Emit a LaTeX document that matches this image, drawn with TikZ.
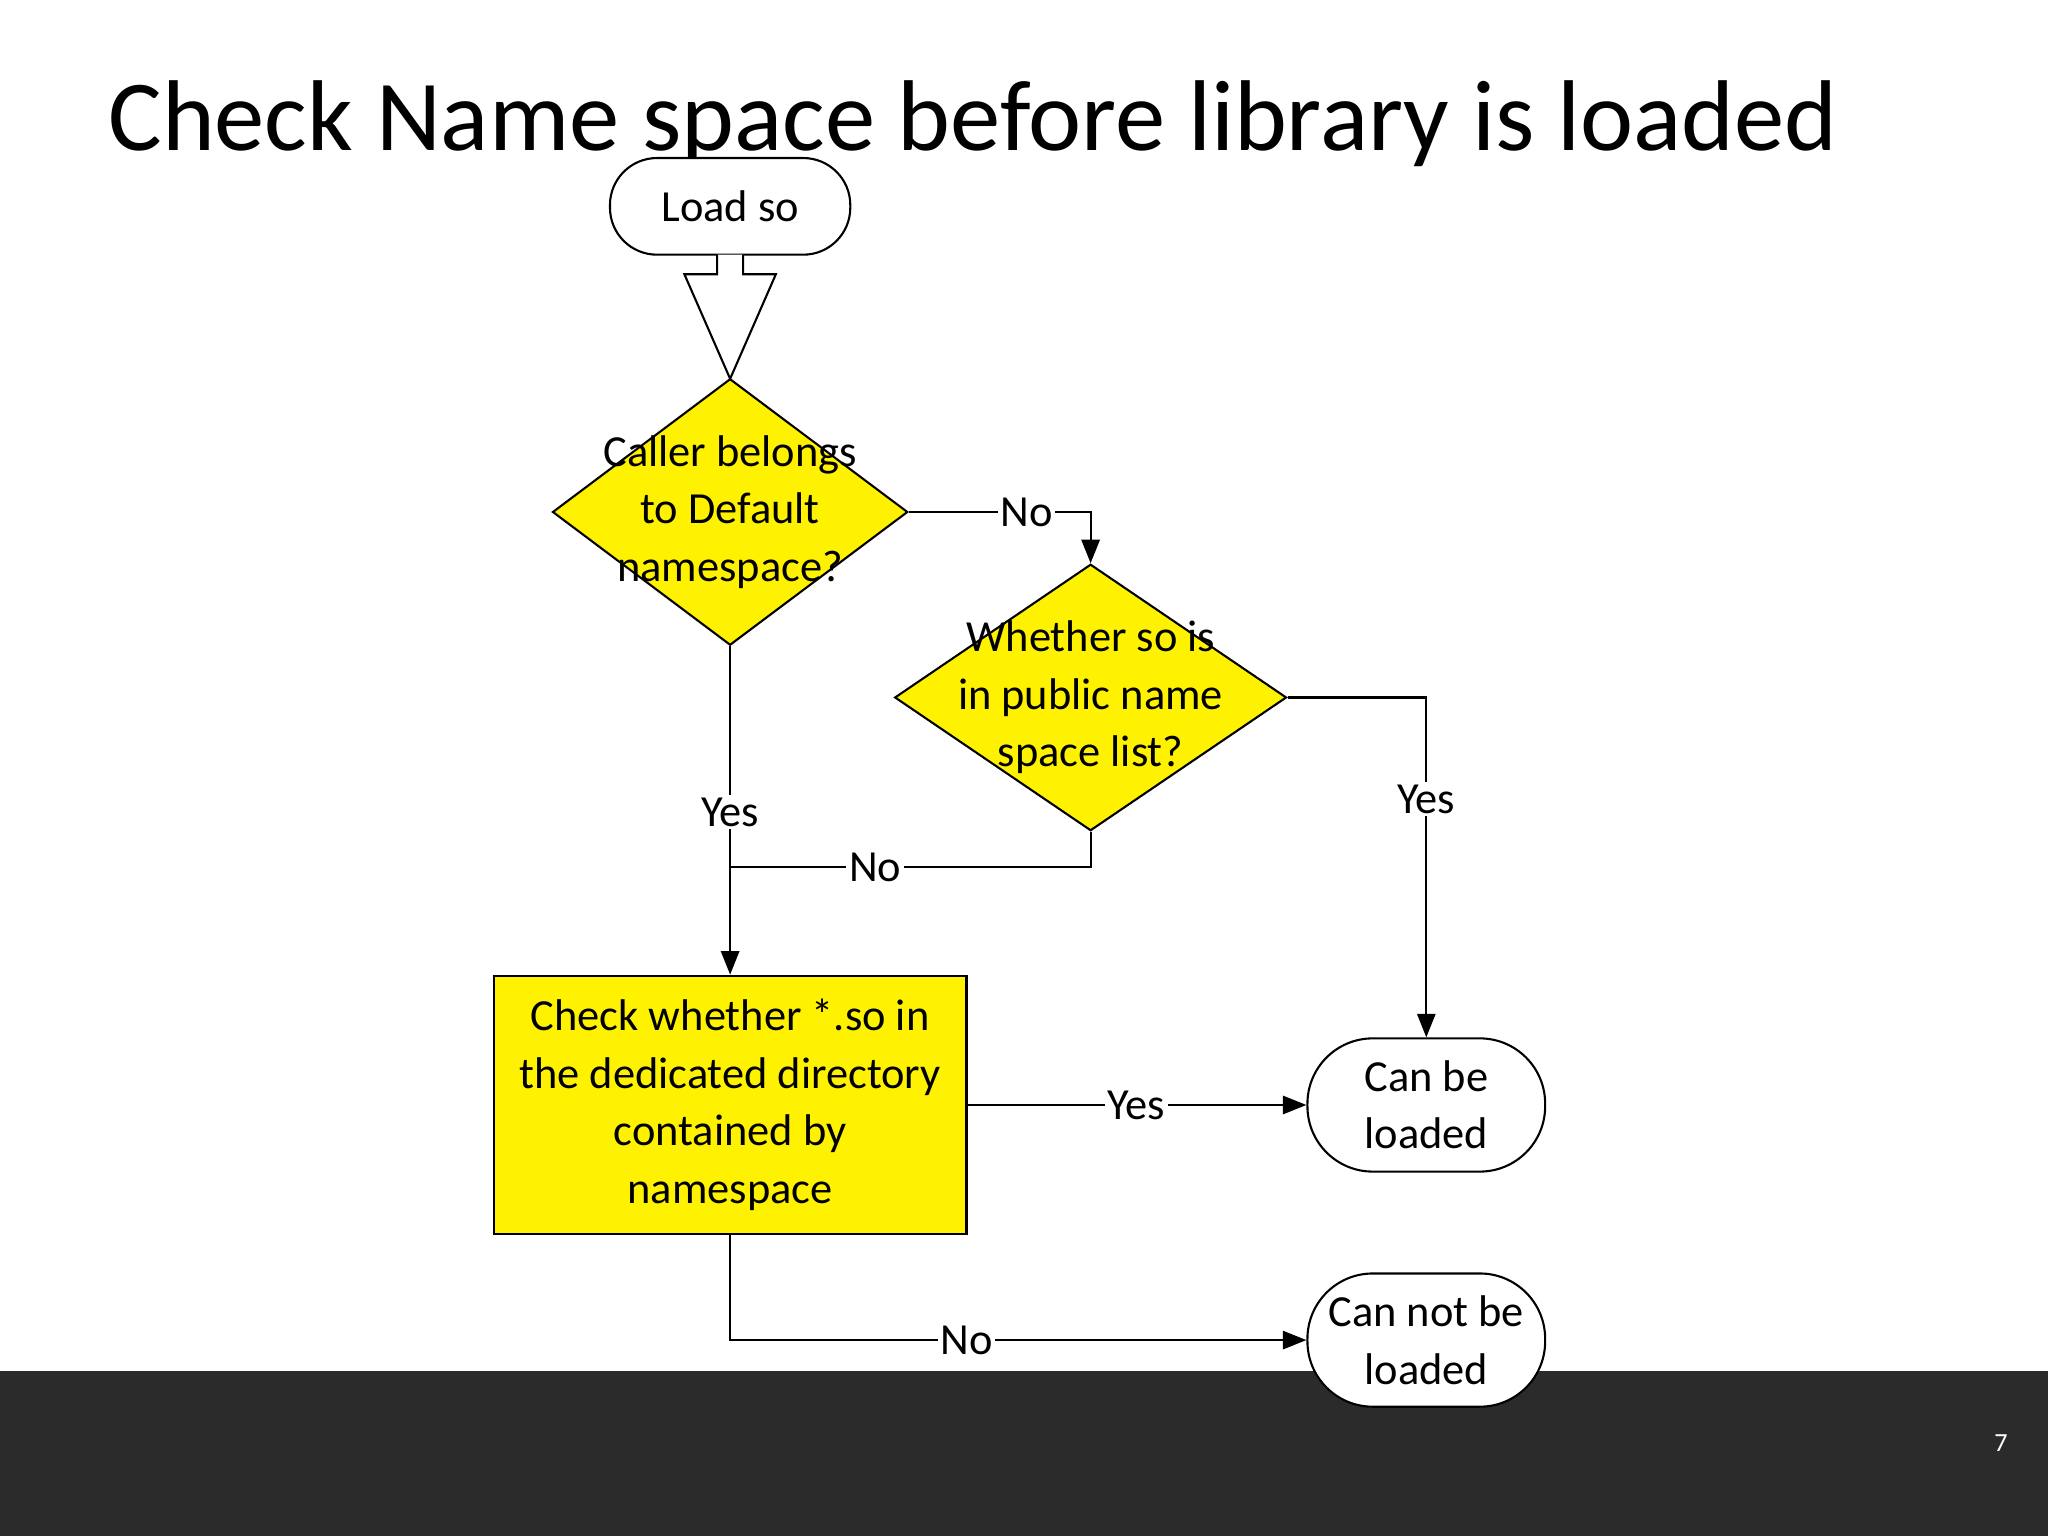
\documentclass[tikz,border=0pt]{standalone}
\usepackage{fontspec}
\setmainfont{Carlito}
\usetikzlibrary{shapes.geometric,arrows.meta}
\begin{document}
\begin{tikzpicture}[x=0.5pt,y=-0.5pt,
  txt/.style={font=\fontsize{17}{22}\selectfont,align=center},
  term/.style={draw,fill=white,line width=0.8pt,inner sep=0,txt},
  dia/.style={draw,diamond,fill=yellow,inner sep=0,line width=0.8pt},
  lbl/.style={fill=white,inner sep=1pt,font=\fontsize{17}{20}\selectfont},
  con/.style={line width=0.8pt},
  arr/.style={con,-{Triangle[length=9pt,width=7pt]}}]
\useasboundingbox (0,0) rectangle (1568,1176);
\fill[white] (0,0) rectangle (1568,1176);
\fill[black!83] (0,1050) rectangle (1568,1176);
\node[white,font=\fontsize{10}{12}\selectfont] (pg) at (1532,1105) {7};
\node[anchor=base west,font=\fontsize{38.5}{44}\selectfont] (title) at (76,115) {Check Name space before library is loaded};
\node[term,rounded corners=18pt,minimum width=92pt,minimum height=37pt] (load) at (559,158) {Load so};
\node[dia,minimum width=136pt,minimum height=102pt] (d1) at (559,392) {};
\node[txt] at (559,392) {Caller belongs\\to Default\\namespace?};
\node[dia,minimum width=150pt,minimum height=102pt] (d2) at (835,534) {};
\node[txt] at (835,534) {Whether so is\\in public name\\space list?};
\node[draw,fill=yellow,line width=0.8pt,minimum width=181pt,minimum height=99pt,inner sep=0,txt] (chk) at (559,846) {Check whether *.so in\\the dedicated directory\\contained by\\namespace};
\node[term,rounded corners=25pt,minimum width=91pt,minimum height=51pt] (can) at (1092,846) {Can be\\loaded};
\node[term,rounded corners=25pt,minimum width=91pt,minimum height=51pt] (cant) at (1092,1026) {Can not be\\loaded};
% hollow block arrow
\draw[con,fill=white] (549,195) -- (549,210) -- (524,210) -- (559,290) -- (594,210) -- (569,210) -- (569,195);
\coordinate (j1) at (835,392);
\draw[arr] (d1.east) -- (j1) -- (d2.north);
\node[lbl] at (786,392) {No};
\draw[arr] (d1.south) -- (chk.north);
\node[lbl] at (559,622) {Yes};
\coordinate (j2) at (835,664);
\coordinate (j3) at (559,664);
\draw[con] (d2.south) -- (j2) -- (j3);
\node[lbl] at (670,664) {No};
\coordinate (j4) at (1092,534);
\draw[arr] (d2.east) -- (j4) -- (can.north);
\node[lbl] at (1092,612) {Yes};
\draw[arr] (chk.east) -- (can.west);
\node[lbl] at (870,846) {Yes};
\coordinate (j5) at (559,1026);
\draw[arr] (chk.south) -- (j5) -- (cant.west);
\node[lbl] at (740,1026) {No};
\end{tikzpicture}
\end{document}
